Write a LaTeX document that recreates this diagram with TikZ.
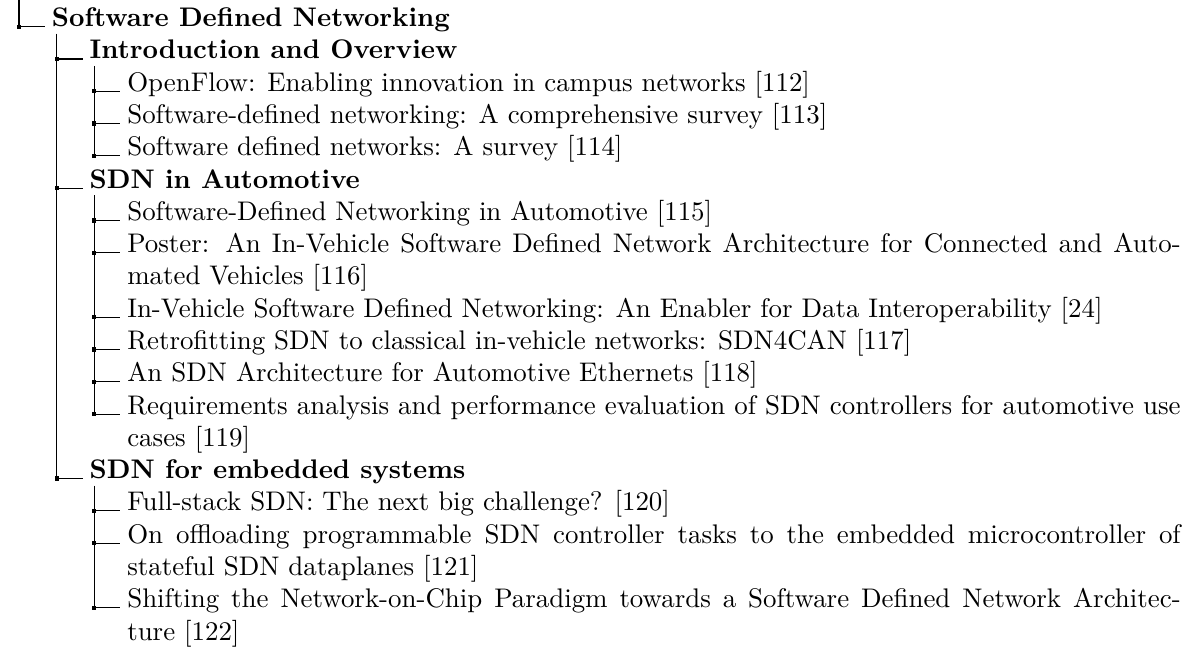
\documentclass[tikz,border=0pt]{standalone}
\usetikzlibrary{calc}
\begin{document}
\begin{tikzpicture}[x=0.37175pt,y=-0.37175pt,
  every node/.style={inner ysep=0pt, inner xsep=2.4pt, anchor=base west},
  head/.style={font=\fontsize{10}{12}\selectfont\bfseries},
  item/.style={font=\fontsize{10}{12}\selectfont, text width=391.6pt, align=justify},
  tree/.style={line width=0.4pt, black},
  dotmark/.style={fill=black}]
\useasboundingbox (0,0) rectangle (1192,649);

% ---- text nodes
\node[head] (sdn)   at (45,26.7)    {Software Defined Networking};
\node[head] (intro) at (82.7,58.98) {Introduction and Overview};
\node[item] (r112)  at (120.3,91.26)  {OpenFlow: Enabling innovation in campus networks [112]};
\node[item] (r113)  at (120.3,123.54) {Software-defined networking: A comprehensive survey [113]};
\node[item] (r114)  at (120.3,155.82) {Software defined networks: A survey [114]};
\node[head] (auto)  at (82.7,188.1) {SDN in Automotive};
\node[item] (r115)  at (120.3,220.38) {Software-Defined Networking in Automotive [115]};
\node[item] (r116)  at (120.3,252.66) {Poster: An In-Vehicle Software Defined Network Architecture for Connected and Auto-\linebreak mated Vehicles [116]};
\node[item] (r24)   at (120.3,317.22) {In-Vehicle Software Defined Networking: An Enabler for Data Interoperability [24]};
\node[item] (r117)  at (120.3,349.5)  {Retrofitting SDN to classical in-vehicle networks: SDN4CAN [117]};
\node[item] (r118)  at (120.3,381.78) {An SDN Architecture for Automotive Ethernets [118]};
\node[item] (r119)  at (120.3,414.06) {Requirements analysis and performance evaluation of SDN controllers for automotive use\linebreak cases [119]};
\node[head] (emb)   at (82.7,478.62) {SDN for embedded systems};
\node[item] (r120)  at (120.3,510.9)  {Full-stack SDN: The next big challenge? [120]};
\node[item] (r121)  at (120.3,543.18) {On offloading programmable SDN controller tasks to the embedded microcontroller of\linebreak stateful SDN dataplanes [121]};
\node[item] (r122)  at (120.3,607.74) {Shifting the Network-on-Chip Paradigm towards a Software Defined Network Architec-\linebreak ture [122]};

% ---- vertical rules (start below each parent)
\coordinate (top)    at (19,0);
\coordinate (sdn-v)   at ($(sdn.base west)+(11.7,7)$);
\coordinate (intro-v) at ($(intro.base west)+(11.6,7)$);
\coordinate (auto-v)  at ($(auto.base west)+(11.6,7)$);
\coordinate (emb-v)   at ($(emb.base west)+(11.6,7)$);

\draw[tree] (top) -- (top |- sdn.base);
\draw[tree] (sdn-v) -- (sdn-v |- emb.base);
\draw[tree] (intro-v) -- (intro-v |- r114.base);
\draw[tree] (auto-v) -- (auto-v |- r119.base);
\draw[tree] (emb-v) -- (emb-v |- r122.base);

% ---- horizontal rules with corner dots
\foreach \v/\c in {top/sdn, sdn-v/intro, sdn-v/auto, sdn-v/emb,
                   intro-v/r112, intro-v/r113, intro-v/r114,
                   auto-v/r115, auto-v/r116, auto-v/r24, auto-v/r117, auto-v/r118, auto-v/r119,
                   emb-v/r120, emb-v/r121, emb-v/r122}{
  \draw[tree] (\v |- \c.base) -- (\c.base west);
  \fill[dotmark] ($(\v |- \c.base)+(-0.8pt,-0.8pt)$) rectangle +(1.6pt,1.6pt);
}
\end{tikzpicture}
\end{document}
